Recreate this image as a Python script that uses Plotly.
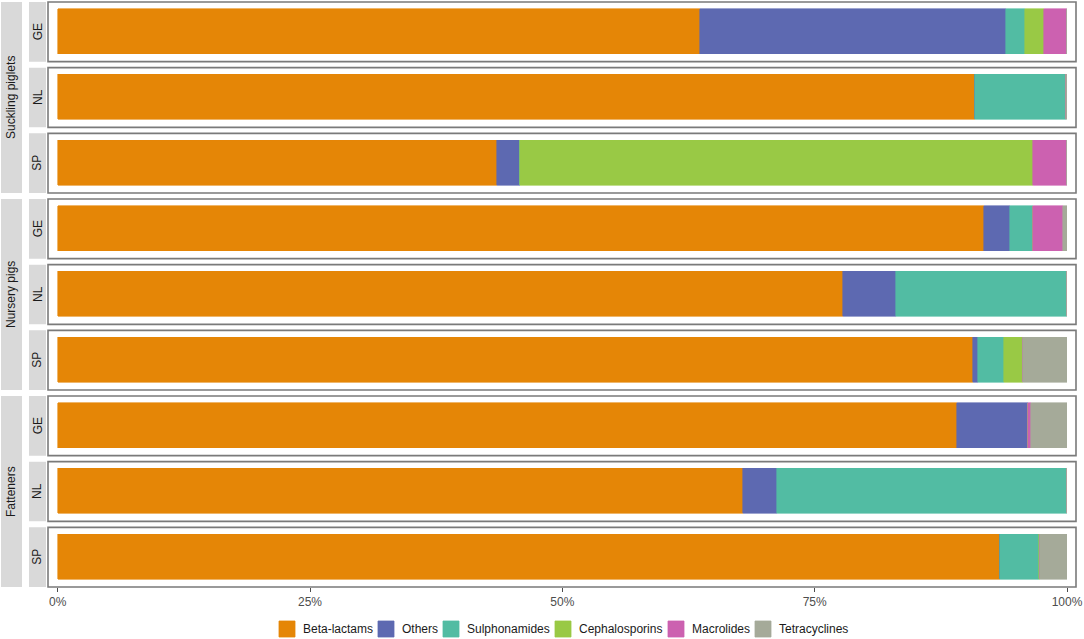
import plotly.graph_objects as go

# ---------------- DATA ----------------
groups = ["Suckling piglets", "Nursery pigs", "Fatteners"]
countries = ["GE", "NL", "SP"]
classes = ["Beta-lactams", "Others", "Sulphonamides", "Cephalosporins", "Macrolides", "Tetracyclines"]
colors = ["#E58606", "#5D69B1", "#52BCA3", "#99C945", "#CC61B0", "#A5AA99"]

# share (%) per panel, top to bottom: SP-GE, SP-NL, SP-SP, NP-GE, ... FA-SP
beta_lactams = [63.6, 90.9, 43.5, 91.8, 77.8, 90.7, 89.1, 67.9, 93.4]
others = [30.4, 0, 2.3, 2.6, 5.3, 0.5, 7.0, 3.4, 0]
sulphonamides = [1.8, 9.0, 0, 2.2, 16.9, 2.6, 0, 28.7, 3.8]
cephalosporins = [1.9, 0, 50.8, 0, 0, 1.8, 0, 0, 0.1]
macrolides = [2.3, 0, 3.4, 3.0, 0, 0, 0.3, 0, 0]
tetracyclines = [0, 0.1, 0, 0.4, 0, 4.4, 3.6, 0, 2.7]

series = [beta_lactams, others, sulphonamides, cephalosporins, macrolides, tetracyclines]

tick_vals = [0, 25, 50, 75, 100]
tick_text = ["0%", "25%", "50%", "75%", "100%"]

# ---------------- LAYOUT HELPERS ----------------
W, H = 1084, 639
ML, MR, MT, MB = 48, 8, 2, 52
plot_w = W - ML - MR
plot_h = H - MT - MB
n_panels = len(groups) * len(countries)
gap = 6 / plot_h
ph = (1 - gap * (n_panels - 1)) / n_panels


def domain(i):
    top = 1 - i * (ph + gap)
    return [top - ph, top]


def px_x(p):
    return (p - ML) / plot_w


def px_y(p):
    return (MT + plot_h - p) / plot_h


fig = go.Figure()

panel = 0
for g, grp in enumerate(groups):
    for c, ctry in enumerate(countries):
        yname = "y" if panel == 0 else f"y{panel + 1}"
        for k, cls in enumerate(classes):
            fig.add_trace(go.Bar(
                x=[series[k][panel]],
                y=[ctry],
                orientation="h",
                name=cls,
                showlegend=False,
                marker=dict(color=colors[k], line=dict(color=colors[k], width=0.6)),
                width=0.9,
                xaxis="x",
                yaxis=yname,
                hovertemplate=f"{grp} {ctry}<br>{cls}: %{{x}}%<extra></extra>",
            ))
        panel += 1

shapes = []
annotations = []
layout_axes = {}
for i in range(n_panels):
    key = "yaxis" if i == 0 else f"yaxis{i + 1}"
    d = domain(i)
    layout_axes[key] = dict(
        domain=d, type="category", range=[-0.6, 0.6], visible=False,
        anchor="x", fixedrange=True,
    )
    ref = "y" if i == 0 else f"y{i + 1}"
    # panel border
    shapes.append(dict(
        type="rect", xref="x domain", yref=f"{ref} domain",
        x0=0, x1=1, y0=0, y1=1,
        line=dict(color="#7a7a7a", width=1.6), layer="above",
    ))
    # inner (country) strip
    shapes.append(dict(
        type="rect", xref="paper", yref="paper",
        x0=px_x(29), x1=px_x(46), y0=d[0], y1=d[1],
        fillcolor="#D9D9D9", line=dict(width=0), layer="below",
    ))
    annotations.append(dict(
        x=px_x(37.5), y=(d[0] + d[1]) / 2, xref="paper", yref="paper",
        xanchor="center", yanchor="middle",
        text=countries[i % 3], textangle=-90, showarrow=False,
        font=dict(size=12, color="#1a1a1a"),
    ))

for g, grp in enumerate(groups):
    y0 = domain(g * 3 + 2)[0]
    y1 = domain(g * 3)[1]
    shapes.append(dict(
        type="rect", xref="paper", yref="paper",
        x0=px_x(1), x1=px_x(22), y0=y0, y1=y1,
        fillcolor="#D9D9D9", line=dict(width=0), layer="below",
    ))
    annotations.append(dict(
        x=px_x(11.5), y=(y0 + y1) / 2, xref="paper", yref="paper",
        xanchor="center", yanchor="middle",
        text=grp, textangle=-90, showarrow=False,
        font=dict(size=12, color="#1a1a1a"),
    ))

# legend drawn below the panels (ggplot style: square key + label)
legend_left = [279, 378, 443, 555, 668, 755]
for k, cls in enumerate(classes):
    x0 = legend_left[k]
    shapes.append(dict(
        type="rect", xref="paper", yref="paper",
        x0=px_x(x0), x1=px_x(x0 + 16), y0=px_y(637), y1=px_y(621),
        fillcolor=colors[k], line=dict(color=colors[k], width=0.8),
    ))
    annotations.append(dict(
        x=px_x(x0 + 22), y=px_y(629), xref="paper", yref="paper",
        xanchor="left", yanchor="middle", text=cls, showarrow=False,
        font=dict(size=12, color="#1a1a1a"),
    ))

x_lo = -(57.7 - ML) / 10.093
x_hi = 100 + (ML + plot_w - 1067) / 10.093

fig.update_layout(
    width=W, height=H,
    margin=dict(l=ML, r=MR, t=MT, b=MB),
    barmode="stack",
    bargap=0,
    showlegend=False,
    plot_bgcolor="white",
    paper_bgcolor="white",
    font=dict(family="Liberation Sans, Arial, sans-serif", size=12, color="#1a1a1a"),
    xaxis=dict(
        domain=[0, 1], anchor=f"y{n_panels}", range=[x_lo, x_hi],
        tickvals=tick_vals, ticktext=tick_text,
        ticks="outside", ticklen=4, tickwidth=1, tickcolor="#4d4d4d",
        tickfont=dict(size=12, color="#4d4d4d"),
        showgrid=False, zeroline=False, showline=False, fixedrange=True,
    ),
    shapes=shapes,
    annotations=annotations,
    **layout_axes,
)

fig.write_html(
    "out.html",
    config={"displayModeBar": False},
    post_script="document.body.style.margin='0';document.body.style.overflow='hidden';",
)
